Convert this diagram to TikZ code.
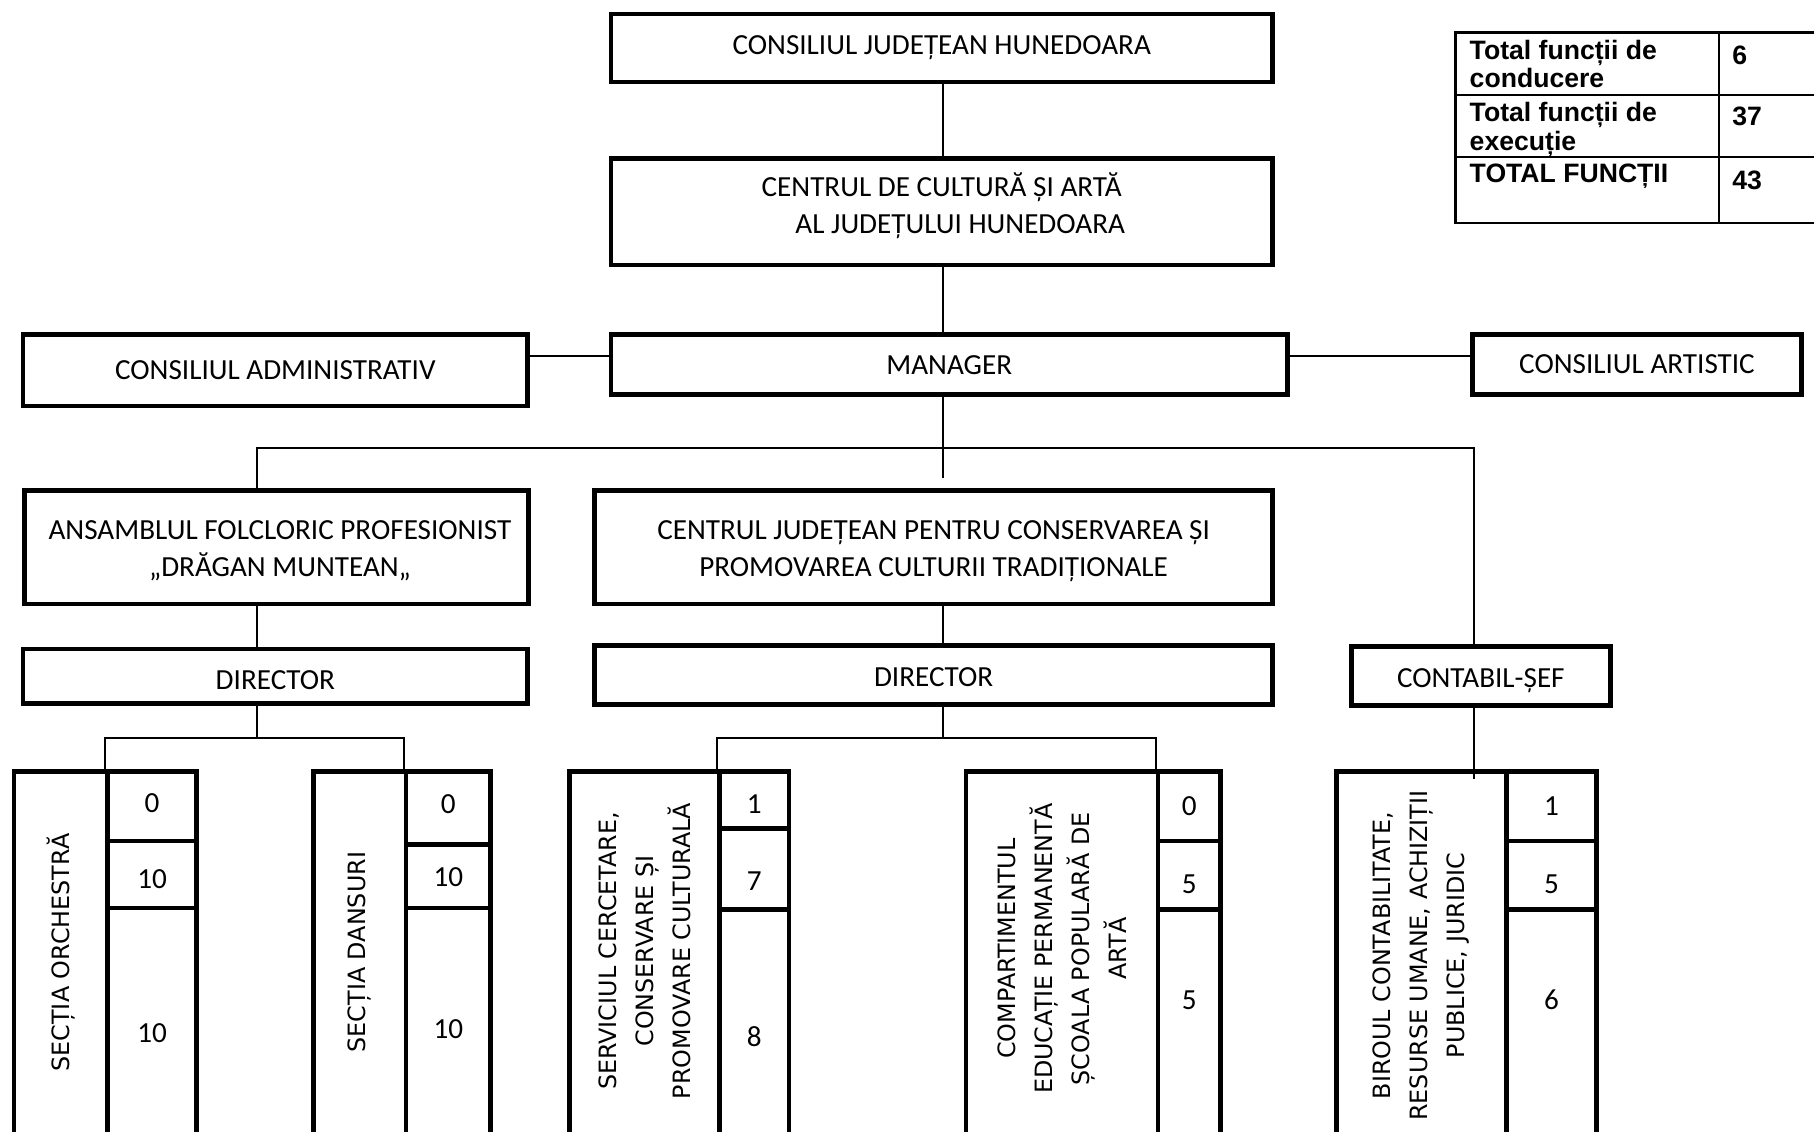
\documentclass[tikz,border=0pt]{standalone}
\usepackage{fontspec}
\setmainfont{Carlito}
\newfontfamily\vfont{DejaVu Sans}
\newfontfamily\tfont{Liberation Sans}
\usetikzlibrary{fit,calc}
\begin{document}
\begin{tikzpicture}[x=0.5pt,y=-0.5pt,
  box/.style={draw,line width=2pt,inner sep=0pt},
  lbl/.style={anchor=base,inner sep=0pt,align=center,font=\fontsize{12.6}{16}\selectfont},
  cell/.style={draw,line width=2pt,inner sep=0pt},
  vtxt/.style={rotate=90,align=center,inner sep=0pt,font=\vfont\fontsize{10.3}{16}\selectfont},
  tcell/.style={draw,line width=1pt,inner sep=0pt},
  ttxt/.style={anchor=north west,inner sep=0pt,align=left,font=\tfont\bfseries\fontsize{11.5}{12.5}\selectfont},
  conn/.style={line width=0.8pt}]
\useasboundingbox (0,0) rectangle (1568,978);
\fill[white] (0,0) rectangle (1568,978);

% upper boxes (label anchor = baseline of the last line)
\node[box, fit={(528,12)(1100,71)}] (cj) {};
\node[lbl] (cjx) at (cj.center |- 0,47) {CONSILIUL JUDEȚEAN HUNEDOARA};
\node[box, fit={(528,137)(1100,229)}] (cc) {};
\node[lbl] (ccx) at (cc.center |- 0,202) {CENTRUL DE CULTURĂ ȘI ARTĂ\\\hspace*{16pt}AL JUDEȚULUI HUNEDOARA};
\node[box, fit={(20,289)(456,351)}] (adm) {};
\node[lbl] (admx) at (adm.center |- 0,328) {CONSILIUL ADMINISTRATIV};
\node[box, fit={(528,289)(1113,341)}] (mgr) {};
\node[lbl] (mgrx) at (mgr.center |- 0,324) {MANAGER};
\node[box, fit={(1273,289)(1557,341)}] (art) {};
\node[lbl] (artx) at (art.center |- 0,323) {CONSILIUL ARTISTIC};
\node[box, fit={(21,424)(457,522)}] (ans) {};
\node[lbl] (ansx) at (242,498) {ANSAMBLUL FOLCLORIC PROFESIONIST\\„DRĂGAN MUNTEAN„};
\node[box, fit={(514,424)(1100,522)}] (cjp) {};
\node[lbl] (cjpx) at (cjp.center |- 0,498) {CENTRUL JUDEȚEAN PENTRU CONSERVAREA ȘI\\PROMOVAREA CULTURII TRADIȚIONALE};
\node[box, fit={(20,561)(456,608)}] (dir1) {};
\node[lbl] (dir1x) at (dir1.center |- 0,596) {DIRECTOR};
\node[box, fit={(514,558)(1100,609)}] (dir2) {};
\node[lbl] (dir2x) at (dir2.center |- 0,593) {DIRECTOR};
\node[box, fit={(1168,559)(1392,610)}] (cont) {};
\node[lbl] (contx) at (cont.center |- 0,594) {CONTABIL-ȘEF};

% bottom groups
% orchestra
\node[cell, fit={(12,667)(93,1000)}] (orL) {};
\node[vtxt] (orT) at (orL.center |- 0,823) {SECȚIA ORCHESTRĂ};
\node[cell, fit={(93,667)(170,727)}] (orA) {};
\node[cell, fit={(93,727)(170,785)}] (orB) {};
\node[cell, fit={(93,785)(170,1000)}] (orC) {};
\node[lbl] (orAn) at (orA.center |- 0,702) {0};
\node[lbl] (orBn) at (orB.center |- 0,768) {10};
\node[lbl] (orCn) at (orC.center |- 0,901) {10};
% dansuri
\node[cell, fit={(271,667)(351,1000)}] (daL) {};
\node[vtxt] (daT) at (daL.center |- 0,823) {SECȚIA DANSURI};
\node[cell, fit={(351,667)(424,730)}] (daA) {};
\node[cell, fit={(351,730)(424,785)}] (daB) {};
\node[cell, fit={(351,785)(424,1000)}] (daC) {};
\node[lbl] (daAn) at (daA.center |- 0,703) {0};
\node[lbl] (daBn) at (daB.center |- 0,766) {10};
\node[lbl] (daCn) at (daC.center |- 0,898) {10};
% serviciul
\node[cell, fit={(492,667)(622,1000)}] (seL) {};
\node[vtxt] (seT) at (seL.center |- 0,822) {SERVICIUL CERCETARE,\\CONSERVARE ȘI\\PROMOVARE CULTURALĂ};
\node[cell, fit={(622,667)(682,716)}] (seA) {};
\node[cell, fit={(622,716)(682,786)}] (seB) {};
\node[cell, fit={(622,786)(682,1000)}] (seC) {};
\node[lbl] (seAn) at (seA.center |- 0,703) {1};
\node[lbl] (seBn) at (seB.center |- 0,770) {7};
\node[lbl] (seCn) at (seC.center |- 0,905) {8};
% compartimentul
\node[cell, fit={(835,667)(1001,1000)}] (coL) {};
\node[vtxt] (coT) at (coL.center |- 0,820) {COMPARTIMENTUL\\EDUCAȚIE PERMANENTĂ\\ȘCOALA POPULARĂ DE\\ARTĂ};
\node[cell, fit={(1001,667)(1055,727)}] (coA) {};
\node[cell, fit={(1001,727)(1055,786)}] (coB) {};
\node[cell, fit={(1001,786)(1055,1000)}] (coC) {};
\node[lbl] (coAn) at (coA.center |- 0,705) {0};
\node[lbl] (coBn) at (coB.center |- 0,772) {5};
\node[lbl] (coCn) at (coC.center |- 0,873) {5};
% biroul
\node[cell, fit={(1155,667)(1302,1000)}] (biL) {};
\node[vtxt] (biT) at (biL.center |- 0,826) {BIROUL CONTABILITATE,\\RESURSE UMANE, ACHIZIȚII\\PUBLICE, JURIDIC};
\node[cell, fit={(1302,667)(1380,727)}] (biA) {};
\node[cell, fit={(1302,727)(1380,786)}] (biB) {};
\node[cell, fit={(1302,786)(1380,1000)}] (biC) {};
\node[lbl] (biAn) at (biA.center |- 0,705) {1};
\node[lbl] (biBn) at (biB.center |- 0,772) {5};
\node[lbl] (biCn) at (biC.center |- 0,873) {6};

% table
\node[tcell, fit={(1258,28)(1486,82)}] (t11) {};
\node[tcell, fit={(1486,28)(1600,82)}] (t12) {};
\node[tcell, fit={(1258,82)(1486,136)}] (t21) {};
\node[tcell, fit={(1486,82)(1600,136)}] (t22) {};
\node[tcell, fit={(1258,136)(1486,193)}] (t31) {};
\node[tcell, fit={(1486,136)(1600,193)}] (t32) {};
\node[ttxt] (t11x) at ($(t11.north west)+(13,7)$) {Total funcții de\\conducere};
\node[ttxt] (t12x) at ($(t12.north west)+(12,12)$) {6};
\node[ttxt] (t21x) at ($(t21.north west)+(13,7)$) {Total funcții de\\execuție};
\node[ttxt] (t22x) at ($(t22.north west)+(12,11)$) {37};
\node[ttxt] (t31x) at ($(t31.north west)+(13,6)$) {TOTAL FUNCȚII};
\node[ttxt] (t32x) at ($(t32.north west)+(12,12)$) {43};

% connectors
\coordinate (spine) at (815,0);
\coordinate (side) at (0,308);
\coordinate (dropL) at (222,387);
\coordinate (dropR) at (1274,387);
\coordinate (bL) at (222,638);
\coordinate (bR) at (815,638);
\draw[conn] (cj.south -| spine) -- (cc.north -| spine);
\draw[conn] (cc.south -| spine) -- (mgr.north -| spine);
\draw[conn] (adm.east |- side) -- (mgr.west |- side);
\draw[conn] (mgr.east |- side) -- (art.west |- side);
\draw[conn] (mgr.south -| spine) -- ($(cjp.north -| spine)+(0,-9)$);
\draw[conn] (ans.north -| dropL) -- (dropL) -- (dropR) -- (cont.north -| dropR);
\draw[conn] (ans.south -| dropL) -- (dir1.north -| dropL);
\draw[conn] (dir1.south -| dropL) -- (bL);
\draw[conn] (orA.north west) |- (bL) -| (daA.north west);
\draw[conn] (cjp.south -| spine) -- (dir2.north -| spine);
\draw[conn] (dir2.south -| spine) -- (bR);
\draw[conn] (seA.north west) |- (bR) -| (coA.north west);
\draw[conn] (cont.south -| dropR) -- ($(biL.north -| dropR)+(0,8)$);
\end{tikzpicture}
\end{document}
